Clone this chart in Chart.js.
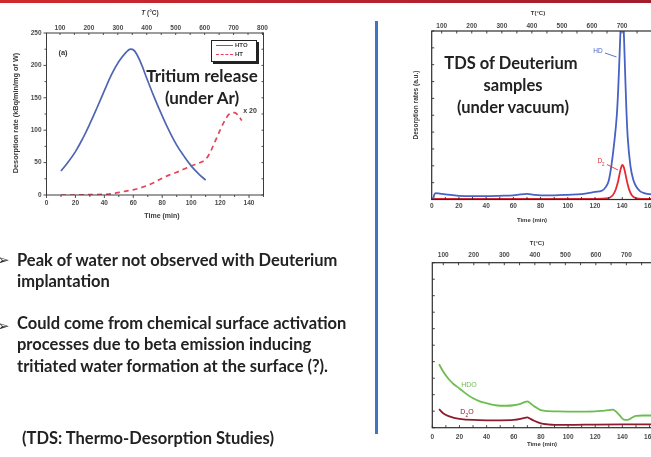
<!DOCTYPE html>
<html><head><meta charset="utf-8">
<script src="https://cdn.jsdelivr.net/npm/chart.js@4.4.1/dist/chart.umd.min.js"></script>
<style>
html,body{margin:0;padding:0;width:651px;height:457px;overflow:hidden;background:#fff;}
body{position:relative;font-family:'Liberation Sans',Arial,sans-serif;}
.abs{position:absolute;white-space:nowrap;}
.c{transform:translate(-50%,-50%);}
canvas{position:absolute;}
.ax{font-size:7px;font-weight:bold;color:#3a3a3a;}
.big{font-family:Lato,'Open Sans',sans-serif;font-weight:bold;font-size:17px;color:#222;}
.bul{font-family:Lato,'Open Sans',sans-serif;font-weight:bold;font-size:16.5px;color:#222;line-height:21px;}
.arr{font-family:'DejaVu Sans';font-size:15px;color:#333;line-height:18px;}
</style>
</head>
<body>
<div class="abs" style="left:0;top:0;width:651px;height:3px;background:linear-gradient(90deg,#cf2a2f,#a31d2c)"></div>
<div class="abs" style="left:374.5px;top:21px;width:3px;height:413px;background:#3f76bf"></div>

<canvas id="cL" width="290" height="225" style="left:0;top:0"></canvas>
<canvas id="cR1" width="310" height="225" style="left:380px;top:0"></canvas>
<canvas id="cR2" width="310" height="220" style="left:380px;top:235px"></canvas>

<svg class="abs" style="left:0;top:0" width="651" height="457">
  <line x1="605" y1="53" x2="616.5" y2="57" stroke="#4a66c0" stroke-width="0.9"/>
  <line x1="607" y1="164.5" x2="618" y2="170" stroke="#e0303a" stroke-width="0.9"/>
</svg>

<!-- left chart texts -->
<div class="abs c ax" style="left:150px;top:12px;font-size:6.5px"><i>T</i> (°C)</div>
<div class="abs c ax" style="left:162px;top:215px;font-size:7px">Time (min)</div>
<div class="abs c ax" style="left:15px;top:113px;font-size:7.3px;transform:translate(-50%,-50%) rotate(-90deg)">Desorption rate (kBq/min/mg of W)</div>
<div class="abs c ax" style="left:63px;top:52px;font-size:7.5px">(a)</div>
<div class="abs c ax" style="left:250px;top:110px;font-size:7px">x 20</div>
<div class="abs" style="left:211px;top:40px;width:44px;height:20px;border:1px solid #222;box-shadow:2px 2px 0 #222;background:#fff"></div>
<div class="abs" style="left:216px;top:44.5px;width:17px;height:0;border-top:1.6px solid #4f66b0"></div>
<div class="abs" style="left:216px;top:53.5px;width:17px;height:0;border-top:1.6px dashed #e8425a"></div>
<div class="abs ax" style="left:235px;top:41.5px;font-size:6px">HTO</div>
<div class="abs ax" style="left:235px;top:50.5px;font-size:6px">HT</div>
<div class="abs c big" style="left:202px;top:75px">Tritium release</div>
<div class="abs c big" style="left:202px;top:97px">(under Ar)</div>

<!-- right top texts -->
<div class="abs c ax" style="left:538px;top:13px;font-size:6px">T(°C)</div>
<div class="abs c ax" style="left:532px;top:220px;font-size:6px">Time (min)</div>
<div class="abs c ax" style="left:415px;top:105px;font-size:6.5px;transform:translate(-50%,-50%) rotate(-90deg)">Desorption rates (a.u.)</div>
<div class="abs c big" style="left:511px;top:63px;font-size:16.5px">TDS of Deuterium</div>
<div class="abs c big" style="left:513px;top:85px;font-size:16.5px">samples</div>
<div class="abs c big" style="left:513px;top:107px;font-size:16.5px">(under vacuum)</div>
<div class="abs c" style="left:598px;top:50px;font-size:6.5px;color:#4a66c0">HD</div>
<div class="abs c" style="left:601px;top:162px;font-size:6.5px;color:#e0303a">D<sub style="font-size:4.5px">2</sub></div>

<!-- right bottom texts -->
<div class="abs c ax" style="left:537px;top:243px;font-size:6px">T(°C)</div>
<div class="abs c ax" style="left:542px;top:444px;font-size:6px">Time (min)</div>
<div class="abs c" style="left:469px;top:384px;font-size:7px;color:#6cbd4f">HDO</div>
<div class="abs c" style="left:467px;top:413px;font-size:7px;color:#8e1c2e">D<sub style="font-size:5px">2</sub>O</div>

<!-- left bullets -->
<div class="abs arr" style="left:-3px;top:251px">➢</div>
<div class="abs bul" style="left:17px;top:249.5px">Peak of water not observed with Deuterium</div>
<div class="abs bul" style="left:17px;top:270.5px">implantation</div>
<div class="abs arr" style="left:-3px;top:317px">➢</div>
<div class="abs bul" style="left:17px;top:312.5px">Could come from chemical surface activation</div>
<div class="abs bul" style="left:17px;top:334px">processes due to beta emission inducing</div>
<div class="abs bul" style="left:17px;top:355.5px">tritiated water formation at the surface (?).</div>
<div class="abs bul" style="left:22px;top:427.5px">(TDS: Thermo-Desorption Studies)</div>

<script>
// ---------------- data ----------------
// Left: tritium release under Ar
const htoTime = [10,15,20,25,30,35,40,45,50,55,58,61,65,70,75,80,85,90,95,100,105,110];
const htoRate = [37,51,67,87,110,135,161,186,206,220,225,222,205,176,148,122,98,77,60,45,33,23];
const htTime  = [10,20,30,40,45,50,55,60,65,70,75,80,85,90,95,100,105,110,113,116,120,124,127,130,132,135];
const htRate  = [0,0,0.5,1,2,4,6,8,11,15,20,26,31,35,40,45,49,55,65,80,100,118,126,127,124,115];
const leftTimeTicks = [0,20,40,60,80,100,120,140];
const leftRateTicks = [0,50,100,150,200,250];
const leftTempTicks = [100,200,300,400,500,600,700,800];

// Right top: TDS of deuterium (a.u.)
const hdTime = [1,2,3,5,10,20,30,40,50,60,65,70,75,80,90,100,110,115,120,125,128,130,132,134,136,137,138,139,140,141,142,143,144,146,148,150,153,156,160,170,180];
const hdRate = [0,0.3,0.38,0.36,0.3,0.22,0.2,0.2,0.22,0.25,0.3,0.33,0.28,0.25,0.25,0.28,0.32,0.38,0.45,0.52,0.75,1.1,2.0,3.3,5.0,6.5,8.5,10.5,11,10.2,7.8,5.4,3.7,2.0,1.2,0.8,0.5,0.38,0.32,0.27,0.25];
const d2Time = [0,20,40,60,80,100,120,128,131,133,135,136,137,138,139,140,141,142,143,144,145,147,150,155,165,180];
const d2Rate = [0.03,0.03,0.03,0.03,0.03,0.03,0.04,0.06,0.12,0.25,0.55,0.8,1.1,1.5,1.85,2.05,1.95,1.65,1.25,0.9,0.6,0.25,0.08,0.04,0.03,0.03];
// Right bottom: water species
const hdoTime = [5,8,12,16,20,25,30,35,40,45,50,55,60,65,68,70,72,75,78,80,85,90,100,110,120,125,130,133,135,138,140,142,144,146,148,150,155,160,170,180];
const hdoRate = [3.85,3.4,2.95,2.62,2.38,2.05,1.78,1.6,1.48,1.38,1.33,1.33,1.36,1.45,1.55,1.6,1.5,1.3,1.15,1.06,1.0,0.99,0.98,0.98,0.99,1.02,1.06,1.1,1.0,0.75,0.55,0.47,0.47,0.55,0.65,0.72,0.74,0.74,0.74,0.74];
const d2oTime = [5,8,12,16,20,30,40,50,60,65,68,70,72,75,80,85,90,100,120,140,160,180];
const d2oRate = [1.12,0.88,0.7,0.6,0.54,0.47,0.45,0.45,0.47,0.53,0.6,0.62,0.55,0.42,0.26,0.2,0.17,0.17,0.19,0.2,0.2,0.2];
const rightTimeTicks = [0,20,40,60,80,100,120,140,160];
const rightTempTicks = [100,200,300,400,500,600,700];

// ---------------- helpers ----------------
const pts = (xs, ys) => xs.map((x, i) => ({x, y: ys[i]}));
const range = (a, b, s) => { const r = []; for (let v = a; v <= b + 1e-9; v += s) r.push(v); return r; };
const setTicks = arr => s => { s.ticks = arr.map(v => ({value: v})); };
const fixW = w => s => { s.width = w; };
const fixH = h => s => { s.height = h; };
const tickFont = {family: "'Liberation Sans', Arial, sans-serif", size: 6.5, weight: 'bold'};

const framePlugin = {
  id: 'frame',
  afterDatasetsDraw(chart, args, o) {
    const {ctx, chartArea: a} = chart;
    ctx.save();
    ctx.strokeStyle = o.color; ctx.lineWidth = o.width;
    ctx.strokeRect(a.left, a.top, a.right - a.left, a.bottom - a.top);
    ctx.lineWidth = 0.9;
    for (const m of o.marks) {
      const s = chart.scales[m.scale];
      ctx.beginPath();
      for (const v of m.values) {
        if (v < s.min || v > s.max) continue;
        const p = s.getPixelForValue(v);
        if (m.side === 'bottom') { ctx.moveTo(p, a.bottom); ctx.lineTo(p, a.bottom + m.len); }
        else if (m.side === 'top') { ctx.moveTo(p, a.top); ctx.lineTo(p, a.top - m.len); }
        else if (m.side === 'left') { ctx.moveTo(a.left, p); ctx.lineTo(a.left - m.len, p); }
        else { ctx.moveTo(a.right, p); ctx.lineTo(a.right + m.len, p); }
      }
      ctx.stroke();
    }
    ctx.restore();
  }
};

const tk = (pad, extra) => Object.assign({font: tickFont, color: '#4a4a4a', autoSkip: false, maxRotation: 0, padding: pad}, extra || {});
function axis(extra) {
  return Object.assign({
    type: 'linear',
    grid: {display: false, drawTicks: false},
    border: {display: false}
  }, extra);
}

const lineDs = (data, color, extra) => Object.assign({
  data, borderColor: color, backgroundColor: color, borderWidth: 1.6,
  pointRadius: 0, fill: false, tension: 0.4, xAxisID: 'x', yAxisID: 'y'
}, extra || {});

const common = {
  responsive: false, animation: false, devicePixelRatio: 1,
  plugins: {legend: {display: false}, tooltip: {enabled: false}}
};

// ---------------- left chart ----------------
new Chart(document.getElementById('cL'), {
  type: 'line',
  data: {datasets: [
    lineDs(pts(htoTime, htoRate), '#4f66b0', {borderWidth: 1.7}),
    lineDs(pts(htTime, htRate), '#e8425a', {borderDash: [5, 4], borderWidth: 1.7, cubicInterpolationMode: 'monotone'})
  ]},
  options: Object.assign({}, common, {
    layout: {padding: {left: 0, right: 26.5, top: 0, bottom: 0}},
    plugins: Object.assign({}, common.plugins, {frame: {color: '#3c3c3c', width: 1, marks: [
      {scale: 'x', side: 'bottom', values: range(0, 150, 20), len: 3},
      {scale: 'x', side: 'bottom', values: range(10, 150, 20), len: 2},
      {scale: 'y', side: 'left', values: range(0, 250, 50), len: 3},
      {scale: 'y', side: 'left', values: range(25, 250, 50), len: 2},
      {scale: 'y', side: 'right', values: range(0, 250, 25), len: -2},
      {scale: 'xT', side: 'top', values: range(100, 800, 50), len: -2}
    ]}}),
    scales: {
      x: axis({position: 'bottom', min: 0, max: 150, afterFit: fixH(30), afterBuildTicks: setTicks(leftTimeTicks), ticks: tk(4)}),
      xT: axis({axis: 'x', position: 'top', min: 53.5, max: 803.5, afterFit: fixH(33), afterBuildTicks: setTicks(leftTempTicks), ticks: tk(1.3)}),
      y: axis({position: 'left', min: 0, max: 250, afterFit: fixW(46.5), afterBuildTicks: setTicks(leftRateTicks), ticks: tk(5)})
    }
  }),
  plugins: [framePlugin]
});

// ---------------- right top chart ----------------
new Chart(document.getElementById('cR1'), {
  type: 'line',
  data: {datasets: [
    lineDs(pts(hdTime, hdRate), '#4562c4', {borderWidth: 1.8, cubicInterpolationMode: 'monotone'}),
    lineDs(pts(d2Time, d2Rate), '#e52a36', {borderWidth: 1.8, cubicInterpolationMode: 'monotone'})
  ]},
  options: Object.assign({}, common, {
    layout: {padding: {left: 0, right: 13.3, top: 0, bottom: 0}},
    plugins: Object.assign({}, common.plugins, {frame: {color: '#2e2e2e', width: 1.2, marks: [
      {scale: 'x', side: 'bottom', values: range(0, 180, 10), len: -2.5},
      {scale: 'y', side: 'left', values: range(0, 10, 1), len: -2.5},
      {scale: 'xT', side: 'top', values: range(100, 850, 50), len: -2.5}
    ]}}),
    scales: {
      x: axis({position: 'bottom', min: 0, max: 180, afterFit: fixH(25.5), afterBuildTicks: setTicks(rightTimeTicks), ticks: tk(2.5)}),
      xT: axis({axis: 'x', position: 'top', min: 66.7, max: 881.8, afterFit: fixH(31), afterBuildTicks: setTicks(rightTempTicks), ticks: tk(0.6)}),
      y: axis({position: 'left', min: 0, max: 10, afterFit: fixW(51.7), ticks: {display: false}})
    }
  }),
  plugins: [framePlugin]
});

// ---------------- right bottom chart ----------------
new Chart(document.getElementById('cR2'), {
  type: 'line',
  data: {datasets: [
    lineDs(pts(hdoTime, hdoRate), '#6cbd4f', {borderWidth: 1.8, cubicInterpolationMode: 'monotone'}),
    lineDs(pts(d2oTime, d2oRate), '#8e1c2e', {borderWidth: 1.8, cubicInterpolationMode: 'monotone'})
  ]},
  options: Object.assign({}, common, {
    layout: {padding: {left: 0, right: 13.3, top: 0, bottom: 0}},
    plugins: Object.assign({}, common.plugins, {frame: {color: '#2e2e2e', width: 1.2, marks: [
      {scale: 'x', side: 'bottom', values: range(0, 180, 10), len: -2.5},
      {scale: 'y', side: 'left', values: range(0, 10, 1), len: -2.5},
      {scale: 'xT', side: 'top', values: range(100, 850, 50), len: -2.5}
    ]}}),
    scales: {
      x: axis({position: 'bottom', min: 0, max: 180, afterFit: fixH(27.3), afterBuildTicks: setTicks(rightTimeTicks), ticks: tk(6)}),
      xT: axis({axis: 'x', position: 'top', min: 64, max: 865, afterFit: fixH(27.7), afterBuildTicks: setTicks(rightTempTicks), ticks: tk(3.2)}),
      y: axis({position: 'left', min: 0, max: 10, afterFit: fixW(52.3), ticks: {display: false}})
    }
  }),
  plugins: [framePlugin]
});
</script>
</body></html>
